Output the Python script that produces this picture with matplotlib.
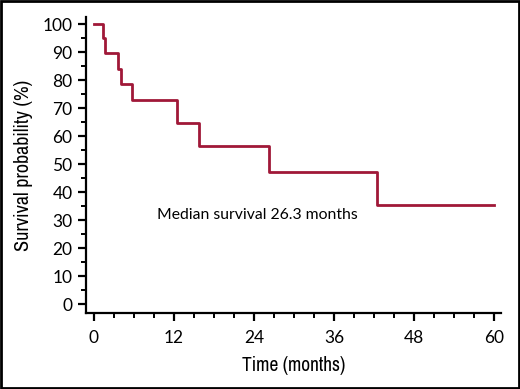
import matplotlib.pyplot as plt
from matplotlib.ticker import MultipleLocator
from matplotlib.patches import Rectangle
from matplotlib import font_manager

# Kaplan-Meier steps
months = [0, 1.45, 1.7, 3.7, 4.1, 5.7, 12.4, 15.8, 26.3, 42.4, 60]
survival = [100, 94.9, 89.6, 83.9, 78.5, 72.9, 64.7, 56.4, 47.1, 35.4, 35.4]
median_text = "Median survival 26.3 months"

red = "#A01838"
plt.rcParams['font.family'] = ['Lato', 'DejaVu Sans']

narrow = [f.name for f in font_manager.fontManager.ttflist if 'Narrow' in f.name or 'Condensed' in f.name]
label_font = {}
if narrow:
    label_font['family'] = narrow[0]
else:
    label_font['family'] = 'DejaVu Sans'
    label_font['stretch'] = 'condensed'

fig = plt.figure(figsize=(5.2, 3.89), dpi=100)
ax = fig.add_axes([0.165, 0.195, 0.798, 0.761])
ax.step(months, survival, where='post', color=red, lw=2)

ax.set_xlim(-1.2, 61)
ax.set_ylim(-3.2, 102.5)
ax.xaxis.set_minor_locator(MultipleLocator(3))
ax.yaxis.set_minor_locator(MultipleLocator(5))
ax.set_xticks(range(0, 61, 12))
ax.set_yticks(range(0, 101, 10))

for s in ['top', 'right']:
    ax.spines[s].set_visible(False)
for s in ['left', 'bottom']:
    ax.spines[s].set_linewidth(1.6)
ax.tick_params(which='major', length=6, width=1.6, labelsize=12.5, direction='out')
ax.tick_params(axis='x', which='major', pad=6)
ax.tick_params(which='minor', length=3.5, width=1.4, direction='out')

ax.set_xlabel("Time (months)", labelpad=7, fontsize=14, **label_font)
ax.set_ylabel("Survival probability (%)", labelpad=7, fontsize=14.5, **label_font)

ax.text(9.4, 31.8, median_text, fontsize=11.3, va='center', ha='left')

fig.patches.append(Rectangle((0.002, 0.003), 0.996, 0.994, transform=fig.transFigure,
                             fill=False, ec='black', lw=2))

fig.savefig("out.png", dpi=100)
